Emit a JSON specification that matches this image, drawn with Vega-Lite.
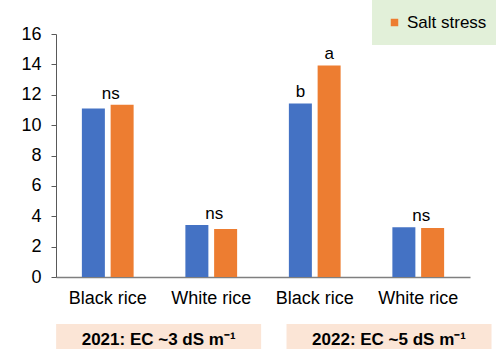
{
  "$schema": "https://vega.github.io/schema/vega-lite/v6.json",
  "width": 414,
  "height": 243,
  "autosize": {"type": "none"},
  "padding": {"left": 56, "top": 34, "right": 26, "bottom": 72},
  "background": "white",
  "config": {"view": {"stroke": null}, "font": "Liberation Sans"},
  "datasets": {
    "bars": [
      {"cat": "2021|Black rice", "treatment": "Control", "value": 11.1, "groupSig": "ns", "barSig": ""},
      {"cat": "2021|Black rice", "treatment": "Salt stress", "value": 11.34, "groupSig": "ns", "barSig": ""},
      {"cat": "2021|White rice", "treatment": "Control", "value": 3.42, "groupSig": "ns", "barSig": ""},
      {"cat": "2021|White rice", "treatment": "Salt stress", "value": 3.16, "groupSig": "ns", "barSig": ""},
      {"cat": "2022|Black rice", "treatment": "Control", "value": 11.43, "groupSig": "", "barSig": "b"},
      {"cat": "2022|Black rice", "treatment": "Salt stress", "value": 13.93, "groupSig": "", "barSig": "a"},
      {"cat": "2022|White rice", "treatment": "Control", "value": 3.27, "groupSig": "ns", "barSig": ""},
      {"cat": "2022|White rice", "treatment": "Salt stress", "value": 3.23, "groupSig": "ns", "barSig": ""}
    ],
    "years": [
      {"year": "2021", "label": "2021: EC ~3 dS m⁻¹"},
      {"year": "2022", "label": "2022: EC ~5 dS m⁻¹"}
    ]
  },
  "resolve": {"scale": {"x": "independent", "y": "independent"}},
  "layer": [
    {
      "data": {"name": "bars"},
      "encoding": {
        "x": {
          "field": "cat",
          "type": "nominal",
          "scale": {
            "domain": ["2021|Black rice", "2021|White rice", "2022|Black rice", "2022|White rice"],
            "paddingInner": 0.5,
            "paddingOuter": 0.25
          },
          "axis": {
            "title": null,
            "labelExpr": "split(datum.value, '|')[1]",
            "labelAngle": 0,
            "labelFontSize": 18,
            "labelColor": "#000000",
            "labelPadding": 12,
            "labelOverlap": false,
            "ticks": false,
            "domainColor": "#7f7f7f",
            "domainWidth": 1.5
          }
        },
        "y": {
          "field": "value",
          "type": "quantitative",
          "scale": {"domain": [0, 16], "nice": false},
          "axis": {
            "title": null,
            "values": [0, 2, 4, 6, 8, 10, 12, 14, 16],
            "grid": false,
            "labelFontSize": 18,
            "labelColor": "#000000",
            "labelPadding": 10,
            "labelOverlap": false,
            "tickSize": 5,
            "tickColor": "#595959",
            "domainColor": "#595959"
          }
        }
      },
      "layer": [
        {
          "mark": {"type": "bar"},
          "encoding": {
            "xOffset": {
              "field": "treatment",
              "type": "nominal",
              "scale": {"domain": ["Control", "Salt stress"], "paddingInner": 0.2, "paddingOuter": 0}
            },
            "color": {
              "field": "treatment",
              "type": "nominal",
              "scale": {"domain": ["Control", "Salt stress"], "range": ["#4472c4", "#ed7d31"]},
              "legend": {
                "title": null,
                "values": ["Salt stress"],
                "orient": "none",
                "legendX": 316,
                "legendY": -34,
                "fillColor": "#e2f0d9",
                "padding": 14,
                "symbolType": "square",
                "symbolSize": 56,
                "symbolStrokeWidth": 0,
                "labelFontSize": 17,
                "labelColor": "#000000",
                "labelOffset": 4
              }
            }
          }
        },
        {
          "transform": [
            {"filter": "datum.groupSig == 'ns'"},
            {"aggregate": [{"op": "max", "field": "value", "as": "value"}], "groupby": ["cat", "groupSig"]}
          ],
          "mark": {"type": "text", "baseline": "alphabetic", "dy": -6, "dx": 3, "fontSize": 17, "color": "#000000"},
          "encoding": {
            "text": {"field": "groupSig"}
          }
        },
        {
          "transform": [{"filter": "datum.barSig != ''"}],
          "mark": {"type": "text", "baseline": "alphabetic", "dy": -6, "fontSize": 17, "color": "#000000"},
          "encoding": {
            "xOffset": {
              "field": "treatment",
              "type": "nominal",
              "scale": {"domain": ["Control", "Salt stress"], "paddingInner": 0.2, "paddingOuter": 0}
            },
            "text": {"field": "barSig"}
          }
        }
      ]
    },
    {
      "data": {"name": "years"},
      "encoding": {
        "x": {
          "field": "year",
          "type": "nominal",
          "scale": {"domain": ["2021", "2022"], "paddingInner": 0.297, "paddingOuter": 0.047, "align": 1},
          "axis": null
        }
      },
      "layer": [
        {
          "mark": {"type": "bar", "width": 205, "color": "#fbe5d6"},
          "encoding": {
            "y": {"datum": -3.1, "type": "quantitative", "scale": {"domain": [0, 16], "nice": false}, "axis": null},
            "y2": {"datum": -5}
          }
        },
        {
          "mark": {"type": "text", "baseline": "alphabetic", "fontSize": 17, "fontWeight": "bold", "color": "#000000"},
          "encoding": {
            "y": {"datum": -4.5, "type": "quantitative", "scale": {"domain": [0, 16], "nice": false}, "axis": null},
            "text": {"field": "label"}
          }
        }
      ]
    }
  ]
}
